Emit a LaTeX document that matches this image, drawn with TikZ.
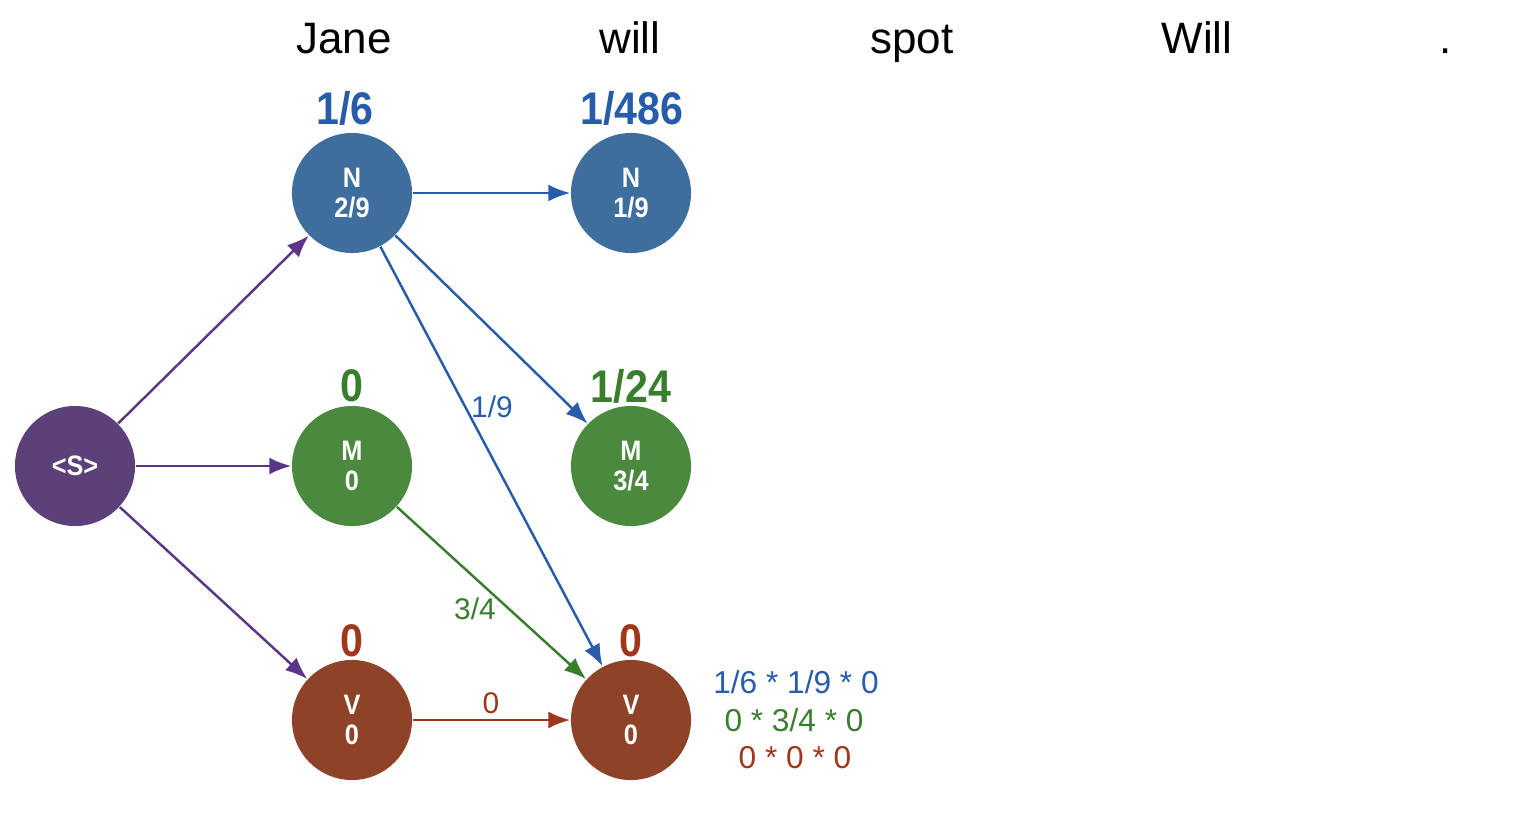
\documentclass[tikz,border=0pt]{standalone}
\usepackage{fontspec}
\setmainfont{Liberation Sans}
\newfontfamily\condfont[FakeStretch=0.9]{Liberation Sans}
\usetikzlibrary{arrows.meta}
\usepackage{xcolor}

\begin{document}
\begin{tikzpicture}[x=0.01cm,y=-0.01cm,
  state/.style={circle,minimum size=1.2cm,inner sep=0pt,text=white,align=center,
    font=\condfont\fontsize{8}{8.5}\selectfont\bfseries},
  score/.style={font=\condfont\fontsize{13}{15}\selectfont\bfseries},
  word/.style={anchor=base,font=\fontsize{12.5}{15}\selectfont},
  edgelabel/.style={font=\fontsize{8.5}{10}\selectfont},
  sum/.style={font=\fontsize{9}{11}\selectfont},
  path/.style={-{Latex[length=2.2mm,width=1.7mm]},line width=0.7pt}]

\definecolor{nodeblue}{RGB}{62,110,158}
\definecolor{nodegreen}{RGB}{74,137,62}
\definecolor{nodered}{RGB}{142,66,40}
\definecolor{nodepurple}{RGB}{91,64,122}
\definecolor{textblue}{RGB}{38,92,170}
\definecolor{textgreen}{RGB}{56,126,44}
\definecolor{textred}{RGB}{160,54,26}
\definecolor{linepurple}{RGB}{92,54,134}

\useasboundingbox (0,0) rectangle (1534,839);

\coordinate (S) at (75,466);
\coordinate (N1) at (352,193);
\coordinate (M1) at (352,466);
\coordinate (V1) at (352,720);
\coordinate (N2) at (631,193);
\coordinate (M2) at (631,466);
\coordinate (V2) at (631,720);

\node [word] at (344,53) {Jane};
\node [word] at (630,53) {will};
\node [word] at (912,53) {spot};
\node [word] at (1197,53) {Will};
\node [word] at (1446,53) {.};

\node (s) at (S) [state,fill=nodepurple] {<S>};
\node (n1) at (N1) [state,fill=nodeblue] {N\\2/9};
\node (m1) at (M1) [state,fill=nodegreen] {M\\0};
\node (v1) at (V1) [state,fill=nodered] {V\\0};
\node (n2) at (N2) [state,fill=nodeblue] {N\\1/9};
\node (m2) at (M2) [state,fill=nodegreen] {M\\3/4};
\node (v2) at (V2) [state,fill=nodered] {V\\0};

\node [score,text=textblue] at (345,108) {1/6};
\node [score,text=textblue] at (632,108) {1/486};
\node [score,text=textgreen] at (352,386) {0};
\node [score,text=textgreen] at (631,386) {1/24};
\node [score,text=textred] at (352,641) {0};
\node [score,text=textred] at (631,641) {0};

\draw [path,linepurple] (s) -- (n1);
\draw [path,linepurple] (s) -- (m1);
\draw [path,linepurple] (s) -- (v1);

\draw [path,textblue] (n1) -- (n2);
\draw [path,textblue] (n1) -- (m2);
\draw [path,textblue] (n1) -- (v2);
\draw [path,textgreen] (m1) -- (v2);
\draw [path,textred] (v1) -- (v2);

\node [edgelabel,text=textblue] at (492,407) {1/9};
\node [edgelabel,text=textgreen] at (475,609) {3/4};
\node [edgelabel,text=textred] at (491,703) {0};

\node [sum,text=textblue] at (796,682) {1/6 * 1/9 * 0};
\node [sum,text=textgreen] at (794,720) {0 * 3/4 * 0};
\node [sum,text=textred] at (795,758) {0 * 0 * 0};

\end{tikzpicture}
\end{document}
